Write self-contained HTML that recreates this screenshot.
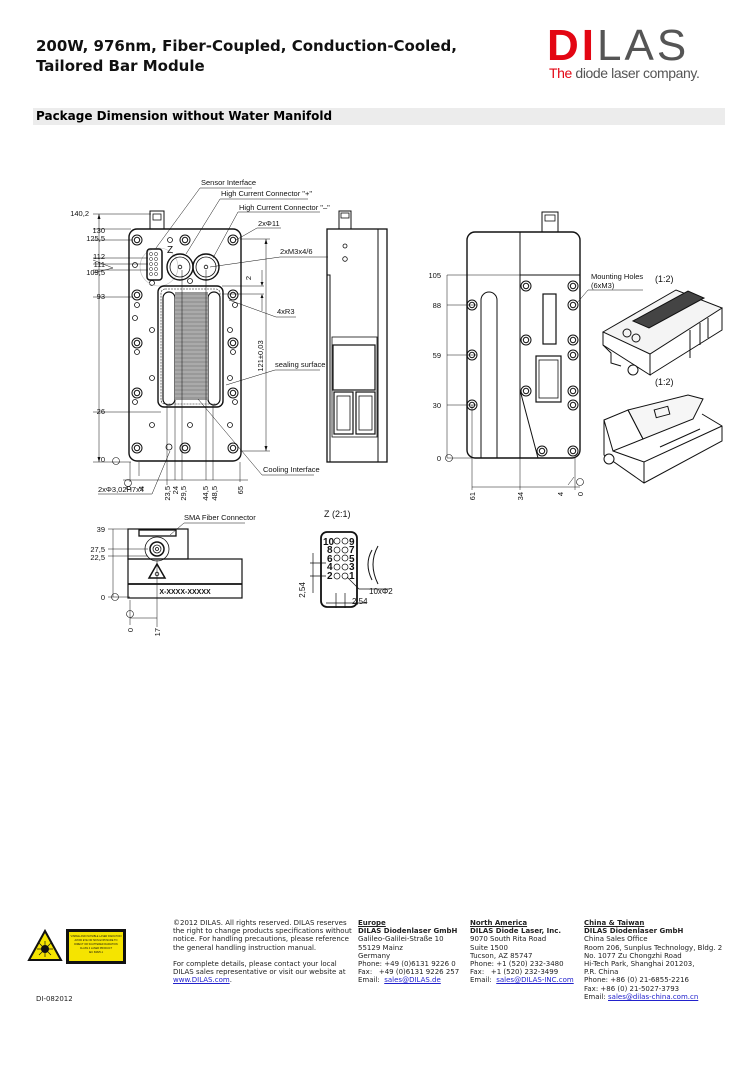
<!DOCTYPE html>
<html><head><meta charset="utf-8"><style>
body{margin:0;background:#fff;width:754px;height:1067px;position:relative;overflow:hidden;font-family:"Liberation Sans",sans-serif}
.t{position:absolute;left:36px;top:36px;font:bold 15px "DejaVu Sans",sans-serif;line-height:20px;color:#111}
.bar{position:absolute;left:33px;top:108px;width:692px;height:17px;background:#ececec;font:bold 12px "DejaVu Sans",sans-serif;line-height:17px;padding-left:3px;box-sizing:border-box}
.f{position:absolute;font:7px "DejaVu Sans",sans-serif;line-height:8.2px;color:#222}
.f b{font-weight:bold}
.f a{color:#22c;text-decoration:underline}
</style></head><body>
<div class="t">200W, 976nm, Fiber-Coupled, Conduction-Cooled,<br>Tailored Bar Module</div>
<div style="position:absolute;left:547px;top:22px;font:bold 44px 'Liberation Sans',sans-serif;letter-spacing:3px;line-height:48px;white-space:nowrap"><span style="color:#e30613">DI</span><span style="color:#555;font-weight:normal">LAS</span></div>
<div style="position:absolute;left:549px;top:65px;font:14px 'Liberation Sans',sans-serif;color:#555;letter-spacing:-0.4px;white-space:nowrap"><span style="color:#e30613">The</span> diode laser company.</div>
<div class="bar">Package Dimension without Water Manifold</div>

<svg style="position:absolute;left:0;top:0" width="754" height="1067" font-family="Liberation Sans Narrow,Liberation Sans,sans-serif" font-size="8" fill="none" stroke="#111" stroke-width="0.8">
<defs><g id="dh" stroke-width="1"><circle r="5"/><circle r="2.7"/></g></defs>
<!-- FRONT VIEW -->
<rect x="150" y="211" width="14" height="18" stroke-width="1"/>
<rect x="153" y="214" width="8" height="6"/>
<rect x="129" y="229" width="112" height="232" rx="8" stroke-width="1.4"/>
<g>
<use href="#dh" x="137" y="240"/><use href="#dh" x="185" y="240"/><use href="#dh" x="233" y="240"/>
<use href="#dh" x="137" y="295"/><use href="#dh" x="233" y="295"/>
<use href="#dh" x="137" y="343"/><use href="#dh" x="233" y="343"/>
<use href="#dh" x="137" y="393"/><use href="#dh" x="233" y="393"/>
<use href="#dh" x="137" y="448"/><use href="#dh" x="185" y="448"/><use href="#dh" x="233" y="448"/>
</g>
<g stroke-width="0.8">
<circle cx="170" cy="240" r="2.5"/><circle cx="135" cy="265" r="2.5"/><circle cx="152" cy="283" r="2.5"/><circle cx="190" cy="281" r="2.5"/>
<circle cx="137" cy="305" r="2.5"/><circle cx="235" cy="305" r="2.5"/><circle cx="135" cy="318" r="2.5"/><circle cx="152" cy="330" r="2.5"/><circle cx="230" cy="330" r="2.5"/>
<circle cx="137" cy="352" r="2.5"/><circle cx="233" cy="352" r="2.5"/><circle cx="152" cy="378" r="2.5"/><circle cx="230" cy="378" r="2.5"/>
<circle cx="135" cy="402" r="2.5"/><circle cx="235" cy="402" r="2.5"/><circle cx="152" cy="425" r="2.5"/><circle cx="230" cy="425" r="2.5"/><circle cx="190" cy="425" r="2.5"/>
<circle cx="169" cy="447" r="3"/>
</g>
<circle cx="159" cy="267" r="19" stroke="#bbb" stroke-width="0.6"/>
<rect x="147" y="249" width="15" height="31" rx="3" stroke-width="1.5"/>
<g stroke-width="0.5">
<circle cx="151" cy="254" r="1.6"/><circle cx="156" cy="254" r="1.6"/><circle cx="151" cy="259" r="1.6"/><circle cx="156" cy="259" r="1.6"/><circle cx="151" cy="264" r="1.6"/><circle cx="156" cy="264" r="1.6"/><circle cx="151" cy="269" r="1.6"/><circle cx="156" cy="269" r="1.6"/><circle cx="151" cy="274" r="1.6"/><circle cx="156" cy="274" r="1.6"/></g>
<circle cx="180" cy="267" r="13" stroke-width="1.4"/><circle cx="180" cy="267" r="10"/><circle cx="180" cy="267" r="1.8"/>
<circle cx="206" cy="267" r="13" stroke-width="1.4"/><circle cx="206" cy="267" r="10"/><circle cx="206" cy="267" r="1.8"/>
<rect x="158" y="286" width="65" height="121" rx="6" stroke-width="1.4"/>
<rect x="161" y="289" width="59" height="115" rx="4" stroke-dasharray="2 1" stroke-width="0.6"/>
<rect x="163" y="292" width="12" height="113" rx="6" stroke-width="1.2"/>
<rect x="208" y="292" width="12" height="113" rx="6" stroke-width="1.2"/>
<rect x="175" y="292" width="33" height="108" fill="#999" stroke="none"/>
<g stroke="#ddd" stroke-width="0.5">
<path d="M175 296h33M175 300h33M175 304h33M175 308h33M175 312h33M175 316h33M175 320h33M175 324h33M175 328h33M175 332h33M175 336h33M175 340h33M175 344h33M175 348h33M175 352h33M175 356h33M175 360h33M175 364h33M175 368h33M175 372h33M175 376h33M175 380h33M175 384h33M175 388h33M175 392h33M175 396h33"/></g>
<!-- dims front -->
<g stroke-width="0.5">
<path d="M93 214h58M93 229h38M93 240h40M93 258h55M93 264h55M93 270h55M93 297h40M93 412h68M93 462h38"/>
<path d="M99 214v248"/>
<path d="M130 462v20M139 462v14M167 405v80M175 400v80M182 270v210M206 270v210M213 405v75M240 462v20"/>
<path d="M123 480h125"/>
<path d="M240 239h30M240 451h30M266 239v212"/>
<path d="M222 286h42M222 294h42M262 270v15M262 296v15"/>
</g>
<g fill="#111" stroke="none">
<path d="M99 214l-1.5 5h3zM99 462l-1.5-5h3zM266 239l-1.5 5h3zM266 451l-1.5-5h3zM262 286l-1.5-4h3zM262 294l-1.5 4h3z"/>
</g>
<!-- leaders front -->
<g stroke-width="0.5">
<path d="M200 188h52M200 188L156 248"/>
<path d="M220 199h88M220 199L186 254"/>
<path d="M238 212h82M238 212L213 258"/>
<path d="M257 228h24M257 228L236 240"/>
<path d="M280 257h48M280 257L210 267"/>
<path d="M276 317h20M276 317L229 300"/>
<path d="M275 370h45M275 370L226 385"/>
<path d="M262 475h52M262 475L198 399"/>
<path d="M98 494h54M152 494L170 451"/>
<path d="M113 268l-20-8M113 268l-20 5"/>
</g>
<g fill="#111" stroke="none" font-size="7.5">
<text x="201" y="185">Sensor Interface</text>
<text x="221" y="196">High Current Connector "+"</text>
<text x="239" y="210">High Current Connector "–"</text>
<text x="258" y="226">2xΦ11</text>
<text x="280" y="254">2xM3x4/6</text>
<text x="277" y="314">4xR3</text>
<text x="275" y="367">sealing surface</text>
<text x="263" y="472">Cooling Interface</text>
<text x="98" y="492">2xΦ3,02H7x4</text>
<text x="167" y="253" font-size="10">Z</text>
<text x="89" y="216" text-anchor="end">140,2</text>
<text x="105" y="233" text-anchor="end">130</text>
<text x="105" y="241" text-anchor="end">125,5</text>
<text x="105" y="259" text-anchor="end">112</text>
<text x="105" y="267" text-anchor="end">111</text>
<text x="105" y="275" text-anchor="end">109,5</text>
<text x="105" y="299" text-anchor="end">93</text>
<text x="105" y="414" text-anchor="end">26</text>
<text x="105" y="462" text-anchor="end">0</text>
<text transform="translate(131,486) rotate(-90)" text-anchor="end">0</text>
<text transform="translate(144,486) rotate(-90)" text-anchor="end">4</text>
<text transform="translate(170,486) rotate(-90)" text-anchor="end">23,5</text>
<text transform="translate(178,486) rotate(-90)" text-anchor="end">24</text>
<text transform="translate(186,486) rotate(-90)" text-anchor="end">29,5</text>
<text transform="translate(208,486) rotate(-90)" text-anchor="end">44,5</text>
<text transform="translate(217,486) rotate(-90)" text-anchor="end">48,5</text>
<text transform="translate(243,486) rotate(-90)" text-anchor="end">65</text>
<text transform="translate(263,356) rotate(-90)" text-anchor="middle">121±0,03</text>
<text transform="translate(251,278) rotate(-90)" text-anchor="middle">2</text>
</g>
<circle cx="116" cy="461" r="3.5" stroke-width="0.6"/><circle cx="128" cy="483" r="3.5" stroke-width="0.6"/>

<!-- SIDE VIEW -->
<rect x="339" y="211" width="12" height="18" stroke-width="1"/>
<rect x="341" y="213" width="8" height="5"/>
<rect x="327" y="229" width="60" height="233" stroke-width="1.3"/>
<path d="M378 229v233M327 275h3v187" stroke-width="1"/>
<circle cx="345" cy="246" r="2"/><circle cx="345" cy="259" r="2.3"/>
<rect x="332" y="337" width="45" height="100"/>
<rect x="333" y="345" width="42" height="45" stroke-width="1.2"/>
<rect x="334" y="392" width="19" height="42" stroke-width="1.2"/><rect x="356" y="392" width="19" height="42" stroke-width="1.2"/>
<rect x="337" y="396" width="13" height="34"/><rect x="359" y="396" width="13" height="34"/>

<!-- BACK VIEW -->
<rect x="542" y="212" width="16" height="20" stroke-width="1"/>
<rect x="545" y="215" width="10" height="6"/>
<rect x="467" y="232" width="113" height="226" rx="8" stroke-width="1.4"/>
<path d="M520 232v226M520 275h60" stroke-width="1"/>
<path d="M481 458V300a8 8 0 0 1 16 0v158" stroke-width="1"/>
<path d="M520 390l18 68" stroke-width="1"/>
<rect x="543" y="294" width="13" height="50" stroke-width="1.2"/>
<rect x="536" y="356" width="25" height="46" stroke-width="1.2"/><rect x="539" y="360" width="19" height="38"/>
<g>
<use href="#dh" x="526" y="286"/><use href="#dh" x="573" y="286"/>
<use href="#dh" x="526" y="340"/><use href="#dh" x="573" y="340"/>
<use href="#dh" x="526" y="391"/><use href="#dh" x="573" y="391"/>
<use href="#dh" x="542" y="451"/><use href="#dh" x="573" y="451"/>
<use href="#dh" x="472" y="305"/><use href="#dh" x="573" y="305"/>
<use href="#dh" x="472" y="355"/><use href="#dh" x="573" y="355"/>
<use href="#dh" x="472" y="405"/><use href="#dh" x="573" y="405"/>
</g>
<g stroke-width="0.5">
<path d="M447 275h75M447 305h30M447 355h30M447 405h30M447 458h25M447 275v183"/>
<path d="M472 405v85M520 458v32M575 458v32M568 485l6-8M472 487h108"/>
<path d="M588 290h55M588 290L577 303"/>
</g>
<g fill="#111" stroke="none" font-size="7.5">
<text x="441" y="278" text-anchor="end">105</text>
<text x="441" y="308" text-anchor="end">88</text>
<text x="441" y="358" text-anchor="end">59</text>
<text x="441" y="408" text-anchor="end">30</text>
<text x="441" y="461" text-anchor="end">0</text>
<text x="591" y="279">Mounting Holes</text>
<text x="591" y="288">(6xM3)</text>
<text x="655" y="282" font-size="9">(1:2)</text>
<text x="655" y="385" font-size="9">(1:2)</text>
<text transform="translate(475,492) rotate(-90)" text-anchor="end">61</text>
<text transform="translate(523,492) rotate(-90)" text-anchor="end">34</text>
<text transform="translate(563,492) rotate(-90)" text-anchor="end">4</text>
<text transform="translate(583,492) rotate(-90)" text-anchor="end">0</text>
</g>
<circle cx="449" cy="458" r="3.5" stroke-width="0.6"/><circle cx="580" cy="482" r="3.5" stroke-width="0.6"/>

<!-- ISO 1 -->
<g stroke-width="1">
<path d="M603 332L676 290L722 308L650 354Z" fill="#f4f4f4"/>
<path d="M603 332v13l47 30v-21M650 375l72-45v-22"/>
<path d="M603 345l8 8v10l10 3" />
<path d="M633 321l55-30l16 7l-55 30Z" fill="#444"/>
<circle cx="627" cy="333" r="4"/><circle cx="636" cy="338" r="4"/>
<path d="M690 330v28M700 323v22M708 318v20"/>
<circle cx="633" cy="370" r="5" fill="#fff"/>
</g>
<!-- ISO 2 -->
<g stroke-width="1">
<path d="M628 410l60-15l15 4l-10 20l-50 20Z" fill="#f6f6f6"/>
<path d="M604 420l24-10l15 29l-30 12Z"/>
<path d="M604 420v35l40 28l78-42v-15l-20-12"/>
<path d="M644 462v21M613 451l31 11l78-36"/>
<rect x="655" y="408" width="14" height="8" transform="rotate(-15 662 412)"/>
<circle cx="609" cy="459" r="5" fill="#fff"/>
<path d="M660 447l40-18" />
</g>

<!-- BOTTOM-LEFT VIEW -->
<rect x="128" y="529" width="60" height="30" stroke-width="1.2"/>
<rect x="139" y="530" width="37" height="6" stroke-width="1.3"/>
<rect x="128" y="559" width="114" height="39" stroke-width="1.2"/>
<path d="M128 584h114" stroke-width="1.8"/>
<circle cx="157" cy="549" r="12"/><circle cx="157" cy="549" r="7" stroke-width="1.5"/><circle cx="157" cy="549" r="4"/><circle cx="157" cy="549" r="1.5"/>
<path d="M157 564l-8 14h16Z" stroke-width="1.5"/><circle cx="157" cy="574" r="1.8"/>
<g stroke-width="0.5">
<path d="M108 529h22M108 549h40M108 556h40M108 597h22M113 529v68M157 560v67M130 600v25M130 618h27"/>
<path d="M184 523h61M184 523L170 535"/>
</g>
<circle cx="115" cy="597" r="3.5" stroke-width="0.6"/><circle cx="130" cy="614" r="3.5" stroke-width="0.6"/>
<g fill="#111" stroke="none" font-size="7.5">
<text x="184" y="520">SMA Fiber Connector</text>
<text x="105" y="532" text-anchor="end">39</text>
<text x="105" y="552" text-anchor="end">27,5</text>
<text x="105" y="560" text-anchor="end">22,5</text>
<text x="105" y="600" text-anchor="end">0</text>
<text x="185" y="594" text-anchor="middle" font-weight="bold" font-size="7">X-XXXX-XXXXX</text>
<text transform="translate(133,628) rotate(-90)" text-anchor="end">0</text>
<text transform="translate(160,628) rotate(-90)" text-anchor="end">17</text>
</g>

<!-- Z VIEW -->
<rect x="321" y="532" width="36" height="75" rx="6" stroke-width="1.8"/>
<g stroke-width="0.7">
<circle cx="337" cy="541" r="3"/><circle cx="345" cy="541" r="3"/>
<circle cx="337" cy="550" r="3"/><circle cx="345" cy="550" r="3"/>
<circle cx="337" cy="558" r="3"/><circle cx="345" cy="558" r="3"/>
<circle cx="337" cy="567" r="3"/><circle cx="345" cy="567" r="3"/>
<circle cx="337" cy="576" r="3"/><circle cx="345" cy="576" r="3"/>
<path d="M372 550q-8 14 0 30M378 546q-10 18 0 38" stroke-width="1"/>
<path d="M310 563h16M310 576h16M313 553v40M336 593v15M345 593v15M326 603h40M347 577l12 12h30"/>
</g>
<g fill="#111" stroke="none" font-size="10" font-weight="bold" font-family="Liberation Sans,sans-serif">
<text x="323" y="545">10</text><text x="349" y="545">9</text>
<text x="327" y="553">8</text><text x="349" y="553">7</text>
<text x="327" y="562">6</text><text x="349" y="562">5</text>
<text x="327" y="570">4</text><text x="349" y="570">3</text>
<text x="327" y="579">2</text><text x="349" y="579">1</text>
</g>
<g fill="#111" stroke="none" font-size="8">
<text x="324" y="517" font-size="9">Z (2:1)</text>
<text x="369" y="594">10xΦ2</text>
<text x="352" y="604">2,54</text>
<text transform="translate(305,590) rotate(-90)" text-anchor="middle">2,54</text>
</g>

<!-- laser warning -->
<path d="M29 960L45 931L61 960Z" fill="#f5e400" stroke="#111" stroke-width="2"/>
<circle cx="45" cy="949" r="4" fill="#111" stroke="none"/>
<g stroke="#111" stroke-width="0.7"><path d="M37 949h16M45 941v16M39 943l12 12M51 943l-12 12"/></g>
<rect x="66" y="929" width="60" height="35" fill="#111" stroke="none"/>
<rect x="69" y="932" width="54" height="29" fill="#f5e400" stroke="none"/>
<g fill="#111" stroke="none" font-size="2.5" font-family="Liberation Sans,sans-serif" text-anchor="middle">
<text x="96" y="937">VISIBLE AND INVISIBLE LASER RADIATION</text><text x="96" y="941">AVOID EYE OR SKIN EXPOSURE TO</text><text x="96" y="945">DIRECT OR SCATTERED RADIATION</text><text x="96" y="949">CLASS 4 LASER PRODUCT</text><text x="96" y="953">IEC 60825-1</text></g>
</svg>

<div class="f" style="left:173px;top:919px;width:180px">©2012 DILAS. All rights reserved. DILAS reserves the right to change products specifications without notice. For handling precautions, please reference the general handling instruction manual.<br><br>For complete details, please contact your local DILAS sales representative or visit our website at <a>www.DILAS.com</a>.</div>
<div class="f" style="left:358px;top:919px"><b><u>Europe</u></b><br><b>DILAS Diodenlaser GmbH</b><br>Galileo-Galilei-Straße 10<br>55129 Mainz<br>Germany<br>Phone: +49 (0)6131 9226 0<br>Fax: &nbsp;&nbsp;+49 (0)6131 9226 257<br>Email: &nbsp;<a>sales@DILAS.de</a></div>
<div class="f" style="left:470px;top:919px"><b><u>North America</u></b><br><b>DILAS Diode Laser, Inc.</b><br>9070 South Rita Road<br>Suite 1500<br>Tucson, AZ 85747<br>Phone: +1 (520) 232-3480<br>Fax: &nbsp;&nbsp;+1 (520) 232-3499<br>Email: &nbsp;<a>sales@DILAS-INC.com</a></div>
<div class="f" style="left:584px;top:919px"><b><u>China &amp; Taiwan</u></b><br><b>DILAS Diodenlaser GmbH</b><br>China Sales Office<br>Room 206, Sunplus Technology, Bldg. 2<br>No. 1077 Zu Chongzhi Road<br>Hi-Tech Park, Shanghai 201203,<br>P.R. China<br>Phone: +86 (0) 21-6855-2216<br>Fax: +86 (0) 21-5027-3793<br>Email: <a>sales@dilas-china.com.cn</a></div>
<div class="f" style="left:36px;top:995px">DI-082012</div>
</body></html>
